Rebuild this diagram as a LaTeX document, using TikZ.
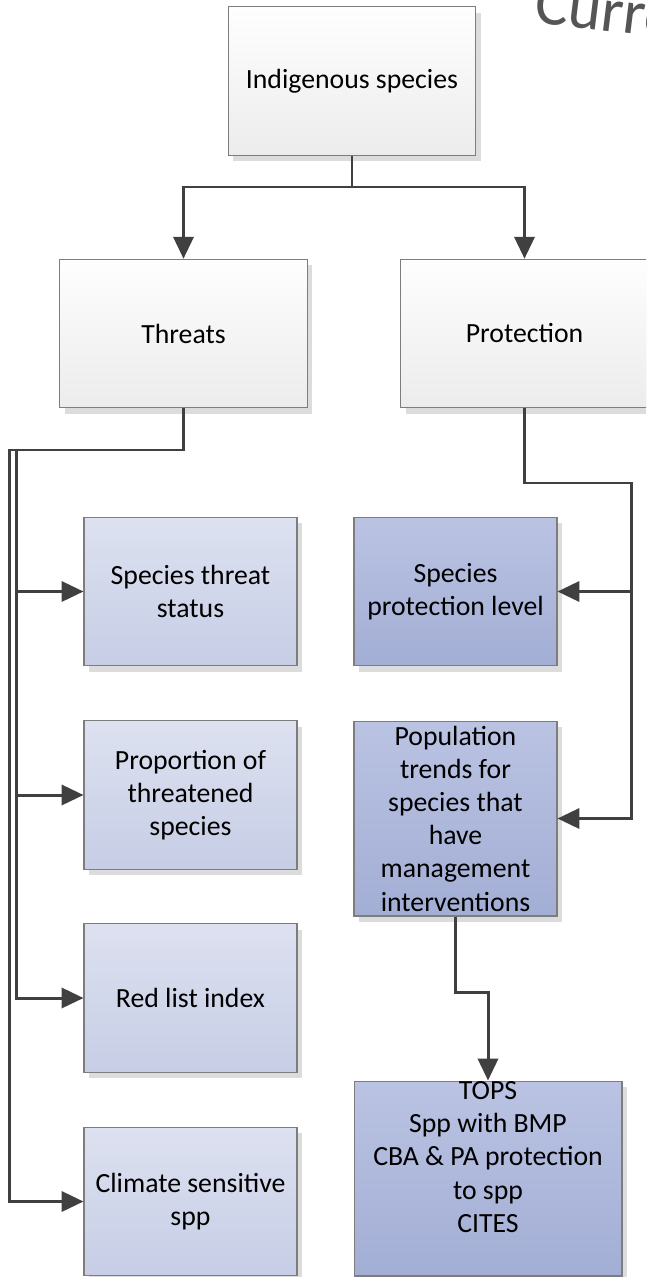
\documentclass[tikz,border=0pt]{standalone}
\usepackage{fontspec}
\setmainfont{Carlito}
\usepackage{tikz}
\usetikzlibrary{positioning, arrows.meta, shadows}
\definecolor{grisfleche}{RGB}{64,64,64}
\definecolor{bordgris}{RGB}{125,125,125}
\definecolor{ombre}{RGB}{220,220,220}
\definecolor{blanccasse}{RGB}{254,254,254}
\definecolor{grisclair}{RGB}{236,236,236}
\definecolor{bleuhaut}{RGB}{221,225,240}
\definecolor{bleubas}{RGB}{198,205,229}
\definecolor{bleufonchaut}{RGB}{186,195,226}
\definecolor{bleufoncbas}{RGB}{163,174,213}
\definecolor{titregris}{RGB}{85,85,85}

\begin{document}
\begin{tikzpicture}[x=0.02cm, y=-0.02cm,
    font=\fontsize{15.8}{18.9}\selectfont,
    boite/.style={draw=bordgris, line width=0.6pt, align=center, inner sep=1pt,
      drop shadow={shadow xshift=2.9pt, shadow yshift=-3.3pt, fill=ombre, opacity=1}},
    grise/.style={boite, top color=blanccasse, bottom color=grisclair,
      minimum width=4.95cm, minimum height=2.97cm},
    bleuclair/.style={boite, top color=bleuhaut, bottom color=bleubas,
      minimum width=4.26cm, minimum height=2.97cm},
    bleufonce/.style={boite, top color=bleufonchaut, bottom color=bleufoncbas,
      minimum width=4.06cm},
    fleche/.style={draw=grisfleche, line width=1.7pt,
      -{Triangle[length=12.5pt, width=11.5pt]}}]
  \clip (0,0) rectangle (646,1277);

  % titre coupé en haut à droite
  \node[font=\fontsize{36}{40}\selectfont, text=titregris, rotate=-7,
    anchor=base west, inner sep=0pt] (titre) at (533,22) {Curre};

  % les trois blocs gris du haut
  \node[grise] (ind) at (352,81) {Indigenous species};
  \node[grise] (threats) at (183.5,333.5) {Threats};
  \node[grise] (protection) at (524.5,333.5) {Protection};

  % indicateurs des menaces
  \foreach \nom/\cy/\txt in {sts/591.5/{Species threat\\status},
      prop/795/{Proportion of\\threatened\\species},
      rli/998/{Red list index},
      clim/1201.5/{Climate sensitive\\spp}}{
    \node[bleuclair] (\nom) at (190.5,\cy) {\txt};
  }

  % indicateurs de la protection
  \node[bleufonce, minimum height=2.97cm] (spl) at (455.5,591.5) {Species\\protection level};
  \node[bleufonce, minimum height=3.9cm] (pop) at (455.5,818.5)
    {Population\\trends for\\species that\\have\\management\\interventions};
  \node[bleufonce, minimum width=5.36cm, minimum height=3.9cm] (tops) at (488,1178.5) {};
  \node[align=center, inner sep=0pt] (topstxt) at (488,1157)
    {TOPS\\Spp with BMP\\CBA \& PA protection\\to spp\\CITES};

  % connecteurs
  \coordinate (partage) at (352,187);
  \draw[fleche] (ind.south) -- (partage) -| (threats.north);
  \draw[fleche] (ind.south) -- (partage) -| (protection.north);

  \foreach \nom in {sts,prop,rli}{
    \draw[fleche] (threats.south) |- (16.5,450) |- (\nom.west);
  }
  \draw[fleche] (threats.south) |- (9.5,450) |- (clim.west);

  \coordinate (pcoude) at (631,483);
  \draw[fleche] (protection.south) |- (pcoude) |- (spl.east);
  \draw[fleche] (protection.south) |- (pcoude) |- (pop.east);

  \coordinate (tcoude) at (488,992);
  \draw[fleche] (pop.south) |- (tcoude) -- (tops.north);
\end{tikzpicture}
\end{document}
